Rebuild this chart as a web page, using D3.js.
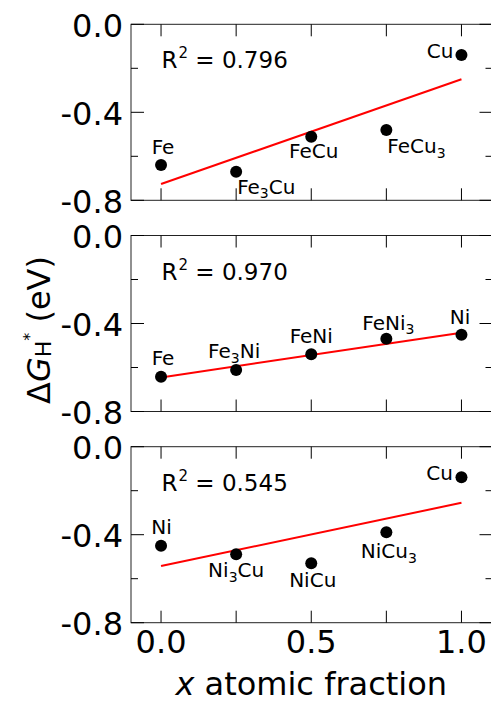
<!DOCTYPE html>
<html>
<head>
<meta charset="utf-8">
<script src="https://cdn.jsdelivr.net/npm/d3@7"></script>
<style>
  body { margin: 0; background: #fff; }
  svg { display: block; font-family: "DejaVu Sans", sans-serif; }
</style>
</head>
<body>
<div id="chart"></div>
<script>
// atomic fraction of the second element
const xFrac = [0, 0.25, 0.5, 0.75, 1.0];

// ΔG_H* (eV) per panel
const feCuNames = ["Fe", "Fe3Cu", "FeCu", "FeCu3", "Cu"];
const feCuValues = [-0.640, -0.670, -0.511, -0.480, -0.140];
const feCuFit = [-0.726, -0.250];

const feNiNames = ["Fe", "Fe3Ni", "FeNi", "FeNi3", "Ni"];
const feNiValues = [-0.642, -0.611, -0.540, -0.469, -0.451];
const feNiFit = [-0.645, -0.442];

const niCuNames = ["Ni", "Ni3Cu", "NiCu", "NiCu3", "Cu"];
const niCuValues = [-0.450, -0.489, -0.530, -0.389, -0.139];
const niCuFit = [-0.542, -0.255];

const r2Labels = ["0.796", "0.970", "0.545"];

const yTickLabels = [0, -0.4, -0.8];
const yMinorTicks = [-0.2, -0.6];
const xTicks = [0, 0.25, 0.5, 0.75, 1.0];
const xTickLabels = [0, 0.5, 1.0];

// where each point label sits: [anchor, dx, dy] in px
const labelPlacement = [
    [["middle", 2, -11], ["start", 1, 22], ["middle", 2.5, 21.5], ["start", 1, 23.5], ["end", -8, 3.3]],
    [["middle", 2, -11.7], ["middle", -2, -11.7], ["middle", 0, -11], ["middle", 2, -8.7], ["middle", -1.5, -10.7]],
    [["middle", 0.5, -11.7], ["middle", 0, 23], ["middle", 1.5, 23.4], ["middle", 2.5, 26], ["end", -8.5, 2.7]]
];

const width = 491;
const height = 703;
const LEFT = 131, RIGHT = 491.5;
const PANEL_H = 176;
const panelTops = [24.3, 235.5, 446.7];

const TICK_FONT = 32;
const LABEL_FONT = 20;
const TITLE_FONT = 32;

const panels = [
    { names: feCuNames, values: feCuValues, fit: feCuFit },
    { names: feNiNames, values: feNiValues, fit: feNiFit },
    { names: niCuNames, values: niCuValues, fit: niCuFit }
];

const svg = d3.select("#chart").append("svg")
    .attr("width", width)
    .attr("height", height);

svg.append("rect").attr("width", width).attr("height", height).attr("fill", "#fff");

const x = d3.scaleLinear().domain([-0.1, 1.1]).range([LEFT, RIGHT]);

// split "Fe3Cu" into text + subscript digit pieces
function addFormula(textSel, name, size) {
    const parts = name.split(/(\d)/).filter(s => s.length);
    let shifted = false;
    parts.forEach(p => {
        const isSub = /^\d$/.test(p);
        const t = textSel.append("tspan").text(p);
        if (isSub) {
            t.attr("font-size", size * 0.7).attr("dy", 4.5);
            shifted = true;
        } else if (shifted) {
            t.attr("dy", -4.5);
            shifted = false;
        }
    });
}

panels.forEach((p, i) => {
    const top = panelTops[i];
    const y = d3.scaleLinear().domain([-0.8, 0]).range([top + PANEL_H, top]);
    const g = svg.append("g");

    // frame
    g.append("rect")
        .attr("x", LEFT).attr("y", top)
        .attr("width", RIGHT - LEFT).attr("height", PANEL_H)
        .attr("fill", "none").attr("stroke", "#222").attr("stroke-width", 1);

    // ticks, all pointing inward
    const tickG = g.append("g").attr("stroke", "#000").attr("stroke-width", 1);
    xTicks.forEach(v => {
        tickG.append("line").attr("x1", x(v)).attr("x2", x(v)).attr("y1", top).attr("y2", top + 12);
        tickG.append("line").attr("x1", x(v)).attr("x2", x(v)).attr("y1", top + PANEL_H).attr("y2", top + PANEL_H - 12);
    });
    yTickLabels.forEach(v => {
        tickG.append("line").attr("x1", LEFT).attr("x2", LEFT + 13).attr("y1", y(v)).attr("y2", y(v));
        tickG.append("line").attr("x1", RIGHT).attr("x2", RIGHT - 12).attr("y1", y(v)).attr("y2", y(v));
    });
    yMinorTicks.forEach(v => {
        tickG.append("line").attr("x1", LEFT).attr("x2", LEFT + 7).attr("y1", y(v)).attr("y2", y(v));
        tickG.append("line").attr("x1", RIGHT).attr("x2", RIGHT - 6).attr("y1", y(v)).attr("y2", y(v));
    });

    // y tick labels
    g.selectAll(".ytl")
        .data(yTickLabels)
        .join("text")
        .attr("x", LEFT - 8)
        .attr("y", d => y(d) + 12.4)
        .attr("text-anchor", "end")
        .attr("font-size", TICK_FONT)
        .text(d => d3.format(".1f")(d).replace("−", "-"));

    // x tick labels on the bottom panel only
    if (i === panels.length - 1) {
        g.selectAll(".xtl")
            .data(xTickLabels)
            .join("text")
            .attr("x", d => x(d))
            .attr("y", top + PANEL_H + 30.6)
            .attr("text-anchor", "middle")
            .attr("font-size", TICK_FONT)
            .text(d => d3.format(".1f")(d));
    }

    // R^2 annotation
    const r2 = g.append("text")
        .attr("x", 161.5)
        .attr("y", top + 44)
        .attr("font-size", 23);
    r2.append("tspan").text("R");
    r2.append("tspan").attr("font-size", 15).attr("dy", -10).attr("dx", 1).text("2");
    r2.append("tspan").attr("dy", 10).text(" = " + r2Labels[i]);

    // fit line
    const line = d3.line().x(d => x(d[0])).y(d => y(d[1]));
    g.append("path")
        .datum([[0, p.fit[0]], [1, p.fit[1]]])
        .attr("d", line)
        .attr("fill", "none")
        .attr("stroke", "#ff0000")
        .attr("stroke-width", 2);

    // points
    g.selectAll("circle")
        .data(xFrac)
        .join("circle")
        .attr("cx", d => x(d))
        .attr("cy", (d, j) => y(p.values[j]))
        .attr("r", 6)
        .attr("fill", "#000");

    // point labels
    p.names.forEach((name, j) => {
        const [anchor, dx, dy] = labelPlacement[i][j];
        const t = g.append("text")
            .attr("x", x(xFrac[j]) + dx)
            .attr("y", y(p.values[j]) + dy)
            .attr("text-anchor", anchor)
            .attr("font-size", LABEL_FONT);
        addFormula(t, name, LABEL_FONT);
    });
});

// y axis title
const yTitle = svg.append("text")
    .attr("transform", "translate(50,330) rotate(-90)")
    .attr("text-anchor", "middle")
    .attr("font-size", TITLE_FONT);
yTitle.append("tspan").text("Δ");
yTitle.append("tspan").attr("font-style", "italic").text("G");
yTitle.append("tspan").attr("font-size", 22).attr("dy", 1).text("H");
yTitle.append("tspan").attr("font-size", 16).attr("dy", -16).text("*");
yTitle.append("tspan").attr("dy", 15).text(" (eV)");

// x axis title
const xTitle = svg.append("text")
    .attr("x", (LEFT + RIGHT) / 2)
    .attr("y", 695)
    .attr("text-anchor", "middle")
    .attr("font-size", TITLE_FONT);
xTitle.append("tspan").attr("font-style", "italic").text("x");
xTitle.append("tspan").text(" atomic fraction");
</script>
</body>
</html>
